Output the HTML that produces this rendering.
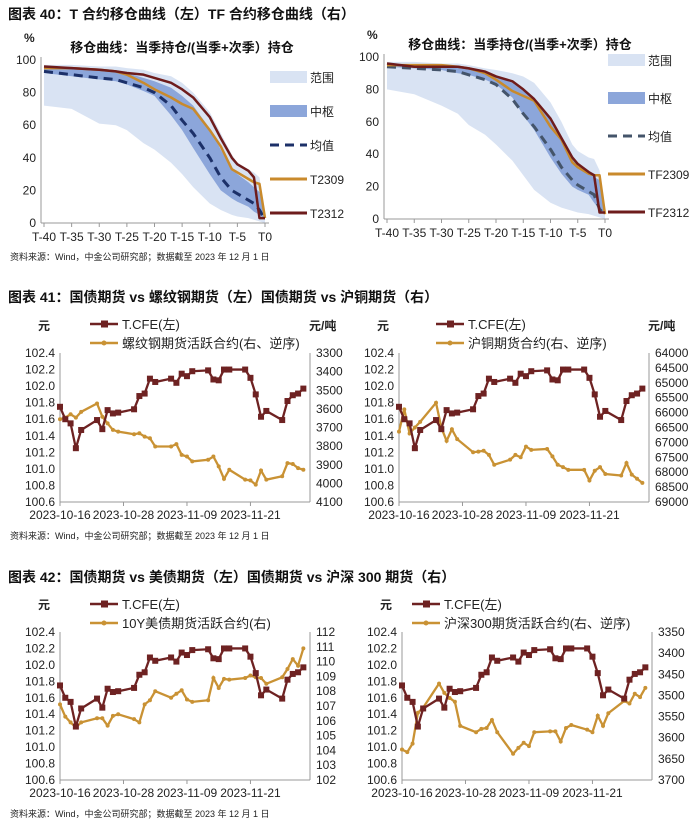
<!DOCTYPE html>
<html><head><meta charset="utf-8"><style>
html,body{margin:0;padding:0;background:#fff;}
svg{display:block;font-family:"Liberation Sans","Noto Sans CJK SC",sans-serif;}
</style></head><body>
<svg id="root" width="700" height="826" viewBox="0 0 700 826">
<g font-weight="bold" font-size="14" fill="#111">
<text x="8" y="19">图表 40：T 合约移仓曲线（左）TF 合约移仓曲线（右）</text>
<text x="8" y="302">图表 41：国债期货 vs 螺纹钢期货（左）国债期货 vs 沪铜期货（右）</text>
<text x="8" y="582">图表 42：国债期货 vs 美债期货（左）国债期货 vs 沪深 300 期货（右）</text>
</g>
<g font-size="9" fill="#222">
<text x="10" y="260">资料来源：Wind，中金公司研究部；数据截至 2023 年 12 月 1 日</text>
<text x="10" y="539">资料来源：Wind，中金公司研究部；数据截至 2023 年 12 月 1 日</text>
<text x="10" y="817">资料来源：Wind，中金公司研究部；数据截至 2023 年 12 月 1 日</text>
</g>
</svg>
<script>
// ---- roll curve data ----
const tIdx = [-40,-35,-30,-27,-25,-22,-20,-17,-15,-13,-10,-8,-6,-5,-3,-2,-1,0];
const tTicks = [-40,-35,-30,-25,-20,-15,-10,-5,0];
const tTickLabels = ["T-40","T-35","T-30","T-25","T-20","T-15","T-10","T-5","T0"];
const pctTicks = [0,20,40,60,80,100];
const tRangeUpper = [97,97,96,96,95,94,92,90,86,80,68,55,42,37,33,31,28,5];
const tRangeLower = [72,70,61,60,57,49,45,37,30,22,12,8,5,4,3,2,1,0];
const tMidUpper = [96,95,94,93,92,89,87,83,78,72,58,45,33,30,25,22,19,3];
const tMidLower = [92,90,88,87,85,81,78,66,57,46,30,20,15,13,10,7,5,2];
const tMean = [93,91,89,88,86,83,80,72,63,55,40,28,20,18,14,12,8,2];
const t2309 = [95,95,94,93,91,86,82,77,73,70,57,47,33,31,27,25,24,3];
const t2312 = [96,95,94,93,92,91,89,86,82,77,65,52,40,36,32,28,3,3];
const tfRangeUpper = [97,97,96,96,95,93,92,90,88,84,72,60,46,42,38,37,30,5];
const tfRangeLower = [80,77,70,65,58,52,46,36,27,18,10,7,5,4,3,2,1,0];
const tfMidUpper = [96,95,95,94,93,91,88,84,79,74,62,50,38,33,28,26,24,4];
const tfMidLower = [94,93,92,90,89,86,83,75,64,55,38,28,20,18,15,10,6,3];
const tfMean = [94,93,92,91,89,86,83,74,65,57,43,32,24,21,17,15,6,3];
const tf2309 = [95,95,95,94,93,90,86,79,76,73,57,49,35,32,28,27,27,3];
const tf2312 = [96,94,94,94,93,91,88,85,80,74,62,50,38,34,29,27,4,4];

// ---- futures data ----
const dates = ["2023-10-16","2023-10-17","2023-10-18","2023-10-19","2023-10-20","2023-10-23","2023-10-24","2023-10-25","2023-10-26","2023-10-27","2023-10-30","2023-10-31","2023-11-01","2023-11-02","2023-11-03","2023-11-06","2023-11-07","2023-11-08","2023-11-09","2023-11-10","2023-11-13","2023-11-14","2023-11-15","2023-11-16","2023-11-17","2023-11-20","2023-11-21","2023-11-22","2023-11-23","2023-11-24","2023-11-27","2023-11-28","2023-11-29","2023-11-30","2023-12-01"];
const dateTicks = ["2023-10-16","2023-10-28","2023-11-09","2023-11-21"];
const tcfe = [101.75,101.6,101.55,101.25,101.47,101.59,101.48,101.71,101.67,101.68,101.72,101.88,101.91,102.09,102.05,102.09,102.04,102.15,102.12,102.18,102.19,102.08,102.07,102.2,102.2,102.2,102.1,101.9,101.63,101.7,101.59,101.82,101.89,101.91,101.97];
const rebar = [3656,3647,3629,3647,3616,3571,3642,3678,3713,3722,3736,3731,3749,3758,3802,3802,3789,3847,3856,3882,3873,3856,3909,3976,3927,3980,3984,4007,3931,3980,3962,3891,3896,3918,3927];
const copper = [66640,65890,66700,66500,66310,65670,66500,66950,66560,66890,67330,67310,67280,67420,67750,67580,67420,67500,67140,67250,67220,67470,67750,67830,67920,67920,68280,67950,67830,68060,68110,67690,68080,68220,68360];
const ust10y = [107.11,106.28,105.89,105.56,105.89,106.17,106.17,105.67,106.33,106.44,106.11,105.89,107.11,107.39,108.0,107.56,107.83,108.06,107.44,107.28,107.39,108.89,108.22,108.83,108.78,108.89,109.06,108.94,108.89,108.5,108.94,109.5,110.17,109.72,110.89];
const hs300 = [3628,3634,3614,3541,3529,3472,3494,3506,3515,3572,3587,3579,3577,3558,3587,3638,3624,3612,3620,3587,3585,3585,3609,3577,3570,3581,3587,3548,3572,3542,3513,3519,3496,3504,3482];
const leftTicks = [100.6,100.8,101.0,101.2,101.4,101.6,101.8,102.0,102.2,102.4];
const rebarTicks = [3300,3400,3500,3600,3700,3800,3900,4000,4100];
const copperTicks = [64000,64500,65000,65500,66000,66500,67000,67500,68000,68500,69000];
const ustTicks = [102,103,104,105,106,107,108,109,110,111,112];
const hsTicks = [3350,3400,3450,3500,3550,3600,3650,3700];

const NS="http://www.w3.org/2000/svg";
const root=document.getElementById('root');
function mk(tag,attrs,parent,txt){const e=document.createElementNS(NS,tag);for(const k in attrs)e.setAttribute(k,attrs[k]);if(txt!==undefined)e.textContent=txt;(parent||root).appendChild(e);return e;}

// ---------- roll curve chart ----------
function rollChart(o){
  const g=mk('g',{});
  
  
  const X=t=>o.x0+(t+40)/40*(o.x1-o.x0);
  const Y=v=>o.y0-v/100*(o.y0-o.y1);
  const band=(up,lo,fill,nm)=>{
    let d='M'+tIdx.map((t,i)=>X(t)+','+Y(up[i])).join('L');
    for(let i=tIdx.length-1;i>=0;i--)d+='L'+X(tIdx[i])+','+Y(lo[i]);
    const p=mk('path',{d:d+'Z',fill:fill,stroke:'none'},g);
    
    
  };
  band(o.ru,o.rl,'#d9e3f3','range-band');
  band(o.mu,o.ml,'#8ca6da','median-band');
  const line=(vals,col,w,dash,nm)=>{
    const p=mk('polyline',{points:tIdx.map((t,i)=>X(t)+','+Y(vals[i])).join(' '),fill:'none',stroke:col,'stroke-width':w,'stroke-dasharray':dash||'none','stroke-linejoin':'round'},g);
    
    
  };
  line(o.mean,o.meanCol,3,'9,6','mean-line');
  line(o.s1,'#c98a2c',2.5,null,o.n1+'-line');
  line(o.s2,'#6e1c1c',2.5,null,o.n2+'-line');
  mk('line',{x1:o.x0-3,y1:o.y1-3,x2:o.x0-3,y2:o.y0,stroke:'#999','stroke-width':1},g);
  mk('line',{x1:o.x0-3,y1:o.y0,x2:o.x1+4,y2:o.y0,stroke:'#999','stroke-width':1},g);
  pctTicks.forEach(v=>{
    const t=mk('text',{x:o.x0-8,y:Y(v)+4,'text-anchor':'end','font-size':12,fill:'#222'},g,String(v));
    
    
  });
  tTicks.forEach((tv,i)=>{
    mk('line',{x1:X(tv),y1:o.y0,x2:X(tv),y2:o.y0+4,stroke:'#999'},g);
    const t=mk('text',{x:X(tv),y:o.y0+18,'text-anchor':'middle','font-size':12,fill:'#222'},g,tTickLabels[i]);
    
    
  });
  const pc=mk('text',{x:o.x0-20,y:o.y1-18,'font-size':12,'font-weight':'bold',fill:'#222'},g,'%');
  
  
  const st=mk('text',{x:o.subX,y:o.y1-8,'text-anchor':'middle','font-size':13,'font-weight':'bold',fill:'#111'},g,'移仓曲线：当季持仓/(当季+次季）持仓');
  
  
  // legend
  const items=[['rect','#d9e3f3','范围','legend-range'],['rect','#8ca6da','中枢','legend-median'],['dash',o.meanCol,'均值','legend-mean'],['line','#c98a2c',o.n1,'legend-'+o.n1],['line','#6e1c1c',o.n2,'legend-'+o.n2]];
  items.forEach((it,i)=>{
    const y=o.ly0+i*o.lstep;
    const lg=mk('g',{},g);
    
    
    if(it[0]==='rect')mk('rect',{x:o.lx,y:y-6,width:37,height:12,fill:it[1]},lg);
    else if(it[0]==='dash')mk('line',{x1:o.lx,y1:y,x2:o.lx+37,y2:y,stroke:it[1],'stroke-width':3,'stroke-dasharray':'9,6'},lg);
    else mk('line',{x1:o.lx,y1:y,x2:o.lx+37,y2:y,stroke:it[1],'stroke-width':3},lg);
    mk('text',{x:o.lx+40,y:y+5,'font-size':12,fill:'#222'},lg,it[2]);
  });
}
rollChart({name:'t-roll-chart',x0:44,x1:265,y0:223,y1:60,ru:tRangeUpper,rl:tRangeLower,mu:tMidUpper,ml:tMidLower,mean:tMean,s1:t2309,s2:t2312,n1:'T2309',n2:'T2312',meanCol:'#1c3068',subX:182,lx:270,ly0:77,lstep:34});
rollChart({name:'tf-roll-chart',x0:387,x1:605,y0:219,y1:57,ru:tfRangeUpper,rl:tfRangeLower,mu:tfMidUpper,ml:tfMidLower,mean:tfMean,s1:tf2309,s2:tf2312,n1:'TF2309',n2:'TF2312',meanCol:'#44546a',subX:520,lx:608,ly0:60,lstep:38});

// ---------- dual axis chart ----------
function dayNum(s){return (Date.UTC(+s.slice(0,4),+s.slice(5,7)-1,+s.slice(8,10))-Date.UTC(2023,9,16))/86400000;}
function dualChart(o){
  const g=mk('g',{});
  
  
  const X=s=>o.x0+dayNum(s)*(o.x1-o.x0)/46.5;
  const YL=v=>o.y0-(v-100.6)/1.8*(o.y0-o.y1);
  const rmin=o.rt[0],rmax=o.rt[o.rt.length-1];
  const YR=v=>o.rev? o.y1+(v-rmin)/(rmax-rmin)*(o.y0-o.y1) : o.y0-(v-rmin)/(rmax-rmin)*(o.y0-o.y1);
  mk('line',{x1:o.x0,y1:o.y1,x2:o.x0,y2:o.y0,stroke:'#999'},g);
  mk('line',{x1:o.x1+4,y1:o.y1,x2:o.x1+4,y2:o.y0,stroke:'#999'},g);
  mk('line',{x1:o.x0,y1:o.y0,x2:o.x1+4,y2:o.y0,stroke:'#999'},g);
  leftTicks.forEach(v=>{
    const t=mk('text',{x:o.x0-5,y:YL(v)+4,'text-anchor':'end','font-size':12,fill:'#222'},g,v.toFixed(1));
    
    
  });
  o.rt.forEach(v=>{
    const t=mk('text',{x:o.x1+10,y:YR(v)+4,'font-size':12,fill:'#222'},g,String(v));
    
    
  });
  dateTicks.forEach(s=>{
    mk('line',{x1:X(s),y1:o.y0,x2:X(s),y2:o.y0+4,stroke:'#999'},g);
    const t=mk('text',{x:X(s),y:o.y0+17,'text-anchor':'middle','font-size':12,fill:'#222'},g,s);
    
    
  });
  const u1=mk('text',{x:o.x0-22,y:o.y1-23,'font-size':12,'font-weight':'bold',fill:'#222'},g,'元');
  
  
  if(o.runit){const u2=mk('text',{x:o.x1+3,y:o.y1-23,'font-size':12,'font-weight':'bold',fill:'#222'},g,o.runit);
  
  }
  // gold series
  const gp=mk('polyline',{points:dates.map((d,i)=>X(d)+','+YR(o.rv[i])).join(' '),fill:'none',stroke:'#c99234','stroke-width':2.3},g);
  
  
  dates.forEach((d,i)=>{
    const m=mk('circle',{cx:X(d),cy:YR(o.rv[i]),r:2,fill:'#c99234'},g);
    
    
  });
  const tp=mk('polyline',{points:dates.map((d,i)=>X(d)+','+YL(tcfe[i])).join(' '),fill:'none',stroke:'#6e2222','stroke-width':2.3},g);
  
  
  dates.forEach((d,i)=>{
    const m=mk('rect',{x:X(d)-3,y:YL(tcfe[i])-3,width:6,height:6,fill:'#6e2222'},g);
    
    
  });
  // legend
  const l1=mk('g',{},g);
  
  
  mk('line',{x1:o.lx,y1:o.ly,x2:o.lx+28,y2:o.ly,stroke:'#6e2222','stroke-width':2.5},l1);
  mk('rect',{x:o.lx+11,y:o.ly-3.5,width:7,height:7,fill:'#6e2222'},l1);
  mk('text',{x:o.lx+32,y:o.ly+5,'font-size':13,fill:'#222'},l1,'T.CFE(左)');
  const l2=mk('g',{},g);
  
  
  mk('line',{x1:o.lx,y1:o.ly+19,x2:o.lx+28,y2:o.ly+19,stroke:'#c99234','stroke-width':2.5},l2);
  mk('circle',{cx:o.lx+14,cy:o.ly+19,r:2.5,fill:'#c99234'},l2);
  mk('text',{x:o.lx+32,y:o.ly+24,'font-size':13,fill:'#222'},l2,o.rname);
}
dualChart({name:'tcfe-vs-rebar-chart',x0:60,x1:306,y0:502,y1:353,rt:rebarTicks,rev:true,rv:rebar,runit:'元/吨',rname:'螺纹钢期货活跃合约(右、逆序)',lx:90,ly:324});
dualChart({name:'tcfe-vs-copper-chart',x0:399,x1:645,y0:502,y1:353,rt:copperTicks,rev:true,rv:copper,runit:'元/吨',rname:'沪铜期货合约(右、逆序)',lx:436,ly:324});
dualChart({name:'tcfe-vs-ust-chart',x0:60,x1:306,y0:780,y1:632,rt:ustTicks,rev:false,rv:ust10y,runit:null,rname:'10Y美债期货活跃合约(右)',lx:90,ly:604});
dualChart({name:'tcfe-vs-hs300-chart',x0:402,x1:648,y0:780,y1:632,rt:hsTicks,rev:true,rv:hs300,runit:null,rname:'沪深300期货活跃合约(右、逆序)',lx:412,ly:604});
</script>
</body></html>
